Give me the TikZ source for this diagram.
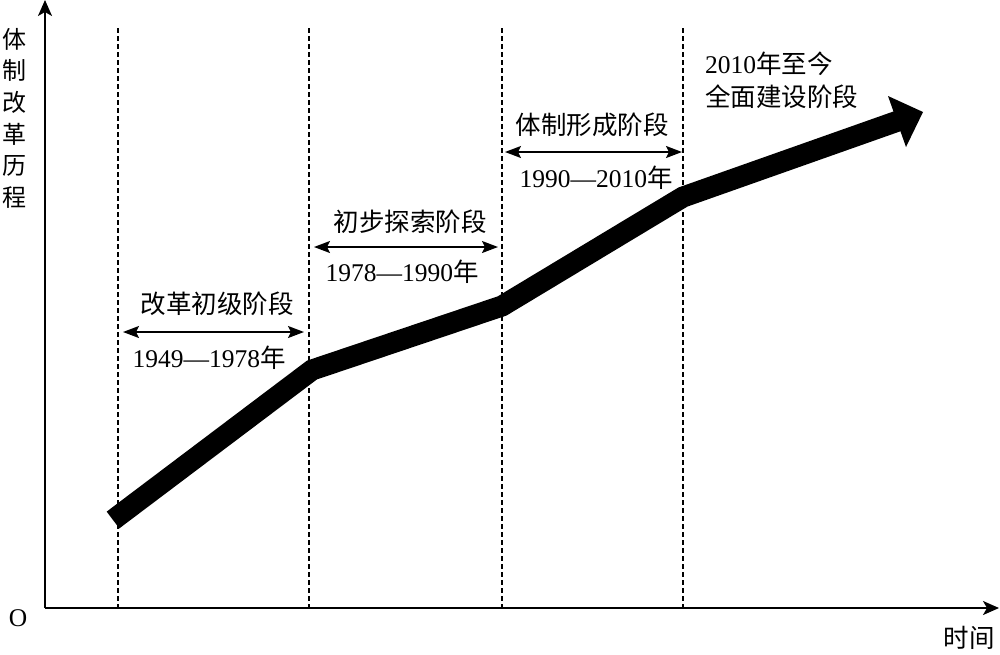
\documentclass[tikz,border=0pt]{standalone}
\usepackage{fontspec}
\setmainfont{Liberation Serif}
\newfontfamily\cjk{Noto Sans CJK SC}
\usetikzlibrary{arrows.meta}
\tikzset{
  axis/.style={line width=1.8pt,-{Stealth[length=16pt,width=14pt,inset=4pt]}},
  guide/.style={line width=1.4pt,dash pattern=on 5pt off 3pt},
  span/.style={line width=1.7pt,{Stealth[length=16pt,width=12pt,inset=3pt]}-{Stealth[length=16pt,width=12pt,inset=3pt]}},
  lbl/.style={inner sep=0pt,font=\fontsize{25.5}{28}\selectfont},
  band/.style={line width=21pt,line join=miter,line cap=butt}
}
\begin{document}
\begin{tikzpicture}[x=1pt,y=-1pt]
\useasboundingbox (0,0) rectangle (1000,654);
% axes
\coordinate (O) at (45,608);
\coordinate (ytop) at (45,0);
\coordinate (xend) at (999,608);
\draw[axis] (O) -- (ytop);
\draw[axis] (O) -- (xend);
% dashed guides
\foreach \x/\n in {118/a,309/b,502/c,683/d}{
  \coordinate (t\n) at (\x,28);
  \coordinate (b\n) at (\x,608);
  \draw[guide] (t\n) -- (b\n);
}
% band
\coordinate (p0) at (113,520);
\coordinate (p1) at (312,370);
\coordinate (p2) at (502,306);
\coordinate (p3) at (683,197);
\coordinate (hb) at (898,121);
\coordinate (tip) at (923,112);
\coordinate (h1) at (888,96);
\coordinate (h2) at (906,147);
\draw[band] (p0) -- (p1) -- (p2) -- (p3) -- (hb);
\fill (h1) -- (tip) -- (h2) -- cycle;
% span arrows
\coordinate (s1a) at (123,332); \coordinate (s1b) at (304,332);
\coordinate (s2a) at (314,247); \coordinate (s2b) at (498,247);
\coordinate (s3a) at (505,152); \coordinate (s3b) at (682,152);
\draw[span] (s1a) -- (s1b);
\draw[span] (s2a) -- (s2b);
\draw[span] (s3a) -- (s3b);
% labels
\node[lbl] (l1) at (217,304) {\cjk 改革初级阶段};
\node[lbl] (d1) at (209,358) {1949—1978\cjk 年};
\node[lbl] (l2) at (410,222) {\cjk 初步探索阶段};
\node[lbl] (d2) at (402,272) {1978—1990\cjk 年};
\node[lbl] (l3) at (592,125) {\cjk 体制形成阶段};
\node[lbl] (d3) at (596,178) {1990—2010\cjk 年};
\node[lbl,anchor=west] (l4) at (705,64) {2010\cjk 年至今};
\node[lbl,anchor=west] (l5) at (705,97) {\cjk 全面建设阶段};
\node[inner sep=0pt,font=\fontsize{24}{31.6}\selectfont\cjk,align=center,anchor=north] (ylab) at (14,28) {体\\制\\改\\革\\历\\程};
\node[lbl] (olab) at (18,618) {O};
\node[lbl] (xlab) at (969,638) {\cjk 时间};
\end{tikzpicture}
\end{document}
